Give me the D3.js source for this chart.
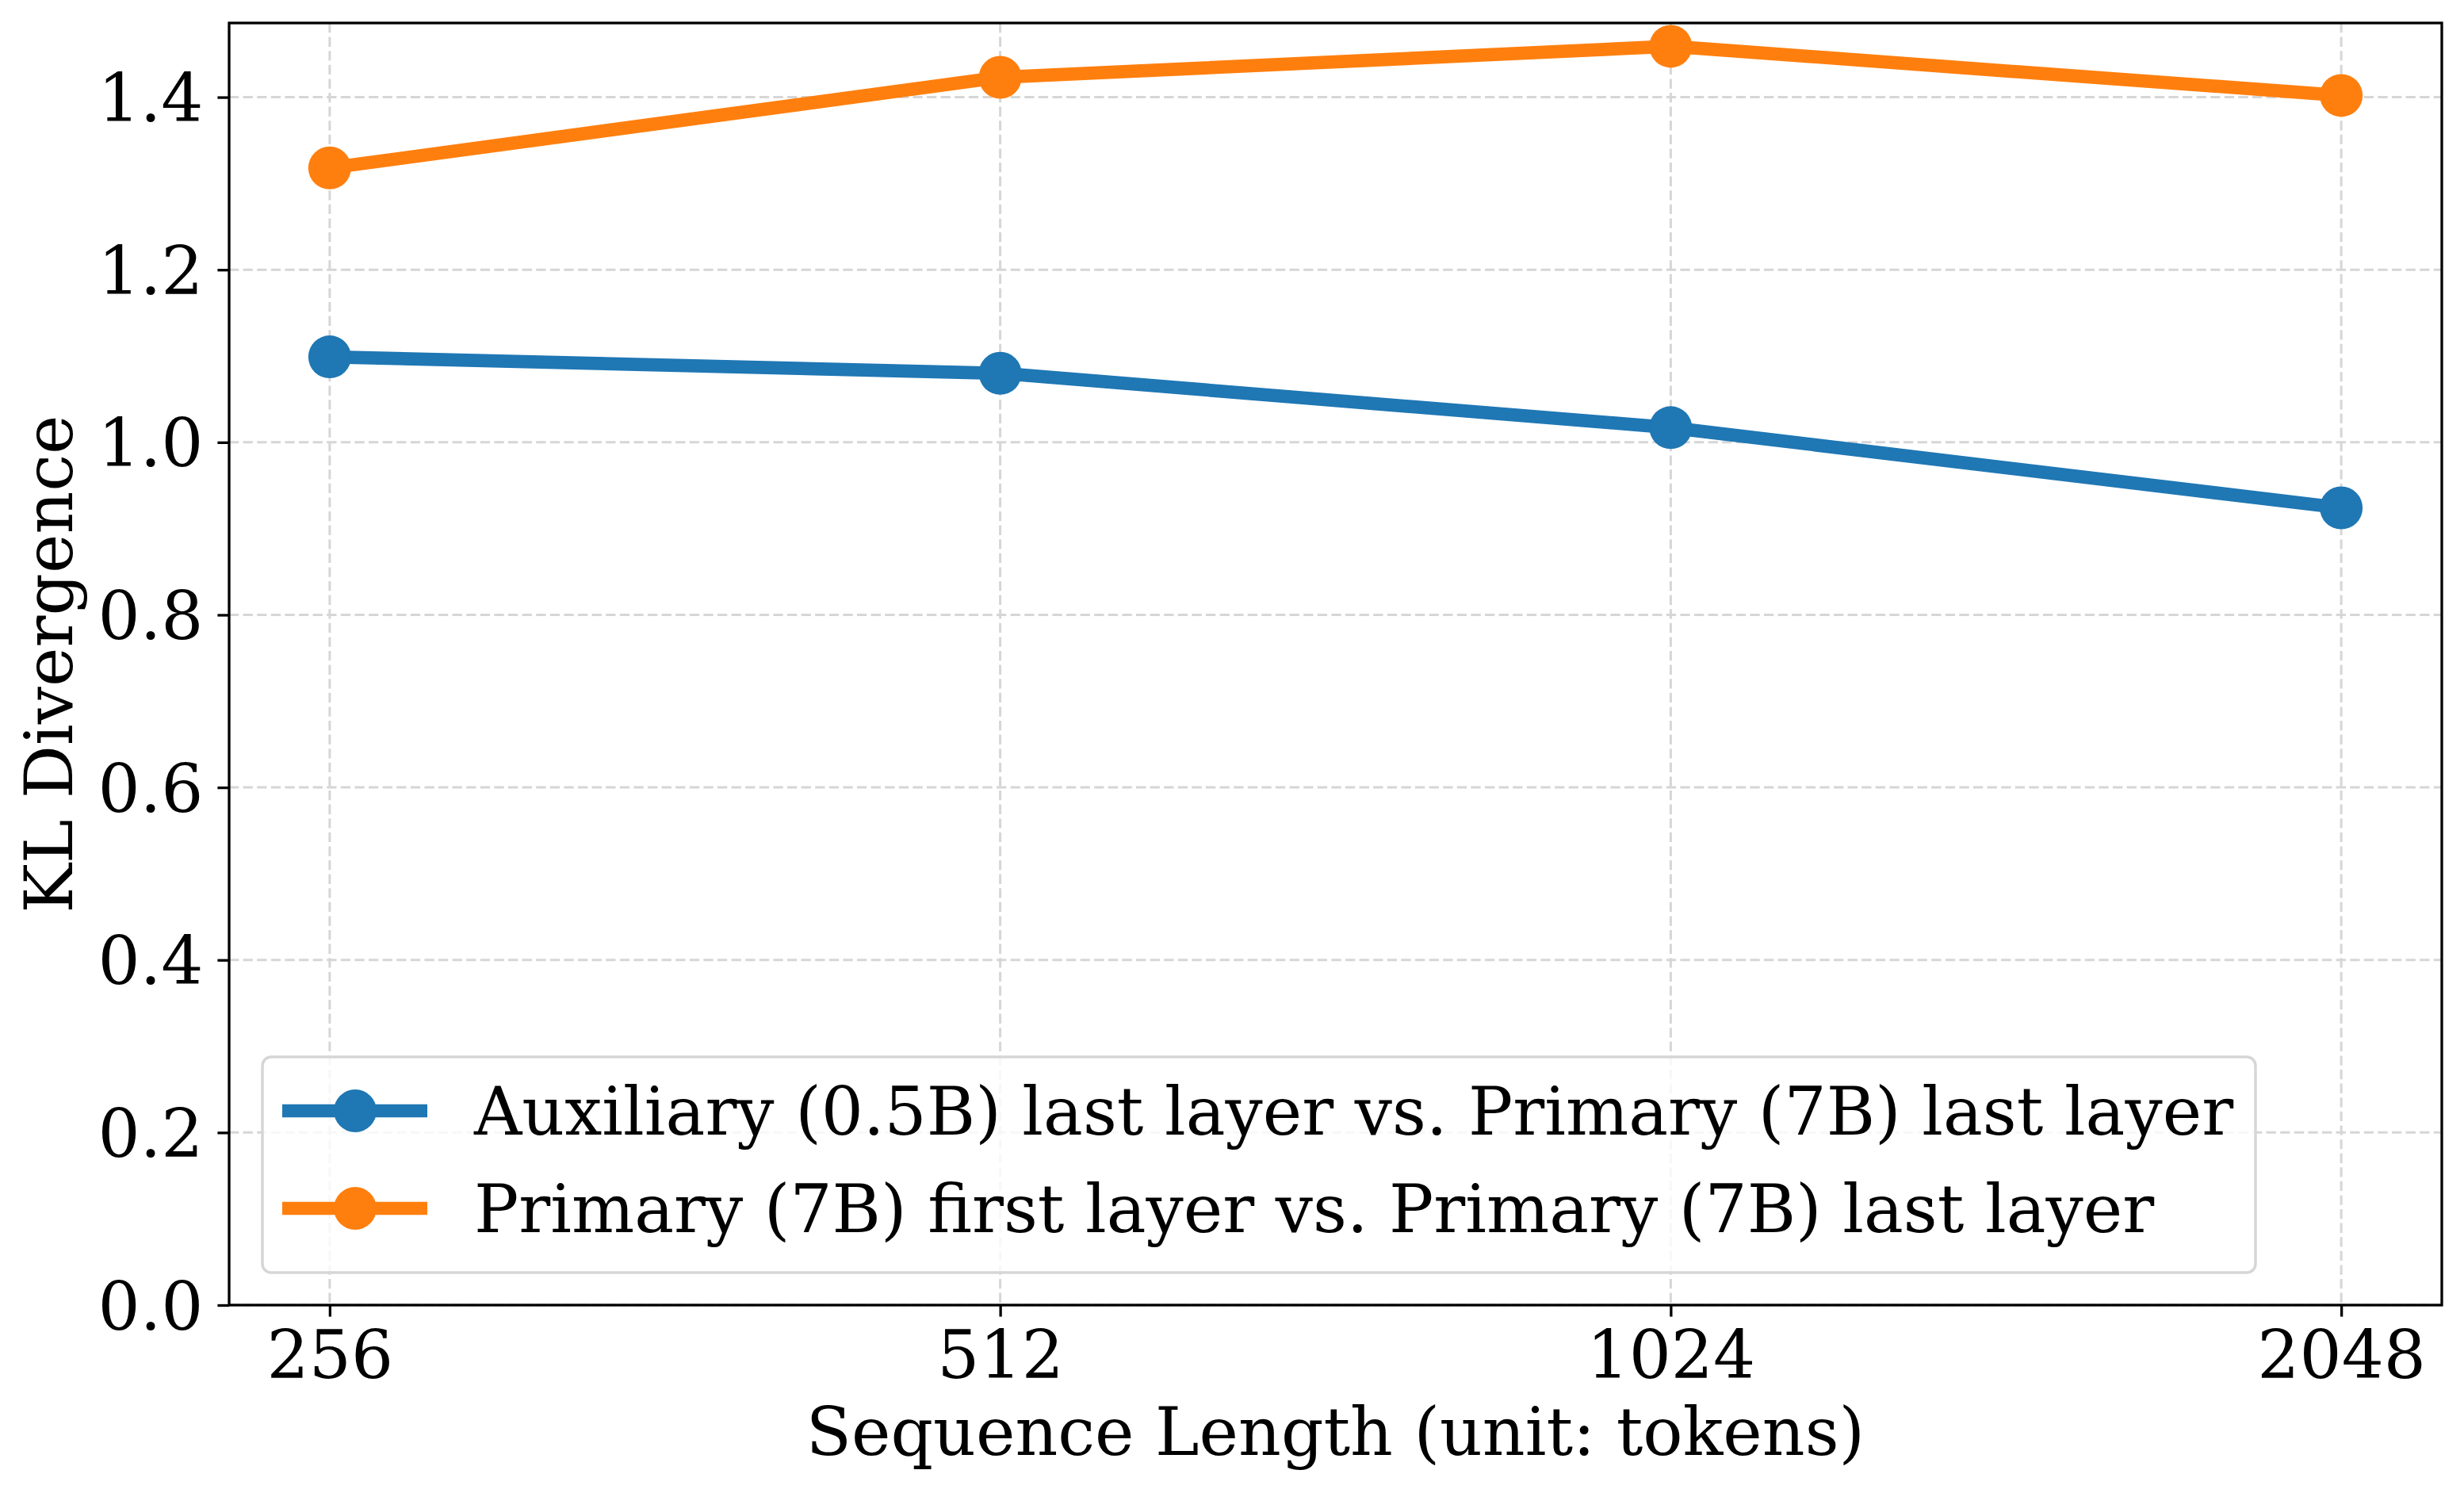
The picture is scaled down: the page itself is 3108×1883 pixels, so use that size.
<!DOCTYPE html>
<html>
<head>
<meta charset="utf-8">
<script src="https://cdn.jsdelivr.net/npm/d3@7"></script>
<style>
  html, body { margin: 0; padding: 0; background: #fff; }
  svg { display: block; }
  text { font-family: "DejaVu Serif", serif; }
</style>
</head>
<body>
<svg id="chart" width="3108" height="1883"></svg>
<script>
// ---- data ----
const categories = ["256", "512", "1024", "2048"];
const auxiliaryValues = [1.099, 1.080, 1.017, 0.924];
const primaryValues = [1.318, 1.423, 1.459, 1.402];
const seriesNames = [
  "Auxiliary (0.5B) last layer vs. Primary (7B) last layer",
  "Primary (7B) first layer vs. Primary (7B) last layer"
];
const seriesColors = ["#1f77b4", "#ff7f0e"];
const yTicks = [0.0, 0.2, 0.4, 0.6, 0.8, 1.0, 1.2, 1.4];
const xLabel = "Sequence Length (unit: tokens)";
const yLabel = "KL Divergence";

// ---- layout ----
const W = 3108, H = 1883;
const L = 289, R = 3080, T = 29, B = 1646;
const fontSize = 83.6;
const lw = 16.7, markerR = 27;
const tickLen = 14.6, spineW = 3.3;

const svg = d3.select("#chart");

const x = d3.scalePoint().domain(categories).range([L, R]).padding(0.15);
const y = d3.scaleLinear().domain([0, 1.486]).range([B, T]);

// grid
const grid = svg.append("g");
grid.selectAll("line.h").data(yTicks).join("line")
  .attr("x1", L).attr("x2", R)
  .attr("y1", d => y(d)).attr("y2", d => y(d))
  .attr("stroke", "#d6d6d6").attr("stroke-width", 3)
  .attr("stroke-dasharray", "12.3,5.3");
grid.selectAll("line.v").data(categories).join("line")
  .attr("y1", T).attr("y2", B)
  .attr("x1", d => x(d)).attr("x2", d => x(d))
  .attr("stroke", "#d6d6d6").attr("stroke-width", 3)
  .attr("stroke-dasharray", "12.3,5.3");

// axes
const xAxis = svg.append("g").attr("transform", `translate(0,${B})`)
  .call(d3.axisBottom(x).tickSize(tickLen).tickPadding(14.6));
const yAxis = svg.append("g").attr("transform", `translate(${L},0)`)
  .call(d3.axisLeft(y).tickValues(yTicks).tickFormat(d3.format(".1f")).tickSize(tickLen).tickPadding(18));
[xAxis, yAxis].forEach(a => {
  a.select(".domain").remove();
  a.selectAll(".tick line").attr("stroke", "#000").attr("stroke-width", spineW);
  a.selectAll(".tick text").attr("fill", "#000")
    .style("font-family", "'DejaVu Serif', serif").style("font-size", fontSize + "px");
});
xAxis.selectAll(".tick text").attr("dy", null).attr("y", tickLen + 14.6).attr("dominant-baseline", "hanging");
yAxis.selectAll(".tick text").attr("dy", "0.36em");

// series lines
const allSeries = [auxiliaryValues, primaryValues];
const line = d3.line().x((d, i) => x(categories[i])).y(d => y(d));
allSeries.forEach((vals, si) => {
  const g = svg.append("g");
  g.append("path").datum(vals)
    .attr("d", line).attr("fill", "none")
    .attr("stroke", seriesColors[si]).attr("stroke-width", lw)
    .attr("stroke-linejoin", "round").attr("stroke-linecap", "butt");
  g.selectAll("circle").data(vals).join("circle")
    .attr("cx", (d, i) => x(categories[i])).attr("cy", d => y(d))
    .attr("r", markerR).attr("fill", seriesColors[si]);
});

// spines
svg.append("rect").attr("x", L).attr("y", T).attr("width", R - L).attr("height", B - T)
  .attr("fill", "none").attr("stroke", "#000").attr("stroke-width", spineW);

// legend
const lg = svg.append("g");
lg.append("rect").attr("x", 331).attr("y", 1333).attr("width", 2845 - 331).attr("height", 1605 - 1333)
  .attr("rx", 11).attr("ry", 11)
  .attr("fill", "#fff").attr("fill-opacity", 0.8)
  .attr("stroke", "#d6d6d6").attr("stroke-width", 3.5);
const rowY = [1401, 1524];
seriesNames.forEach((name, i) => {
  lg.append("line").attr("x1", 356).attr("x2", 539).attr("y1", rowY[i]).attr("y2", rowY[i])
    .attr("stroke", seriesColors[i]).attr("stroke-width", lw);
  lg.append("circle").attr("cx", 448).attr("cy", rowY[i]).attr("r", markerR).attr("fill", seriesColors[i]);
  lg.append("text").attr("x", 598).attr("y", rowY[i] + 30)
    .style("font-size", fontSize + "px").attr("fill", "#000").text(name);
});

// axis labels
svg.append("text").attr("x", (L + R) / 2).attr("y", 1835).attr("text-anchor", "middle")
  .style("font-size", fontSize + "px").attr("fill", "#000").text(xLabel);
svg.append("text").attr("transform", `translate(91,${(T + B) / 2}) rotate(-90)`)
  .attr("text-anchor", "middle")
  .style("font-size", fontSize + "px").attr("fill", "#000").text(yLabel);
</script>
</body>
</html>
